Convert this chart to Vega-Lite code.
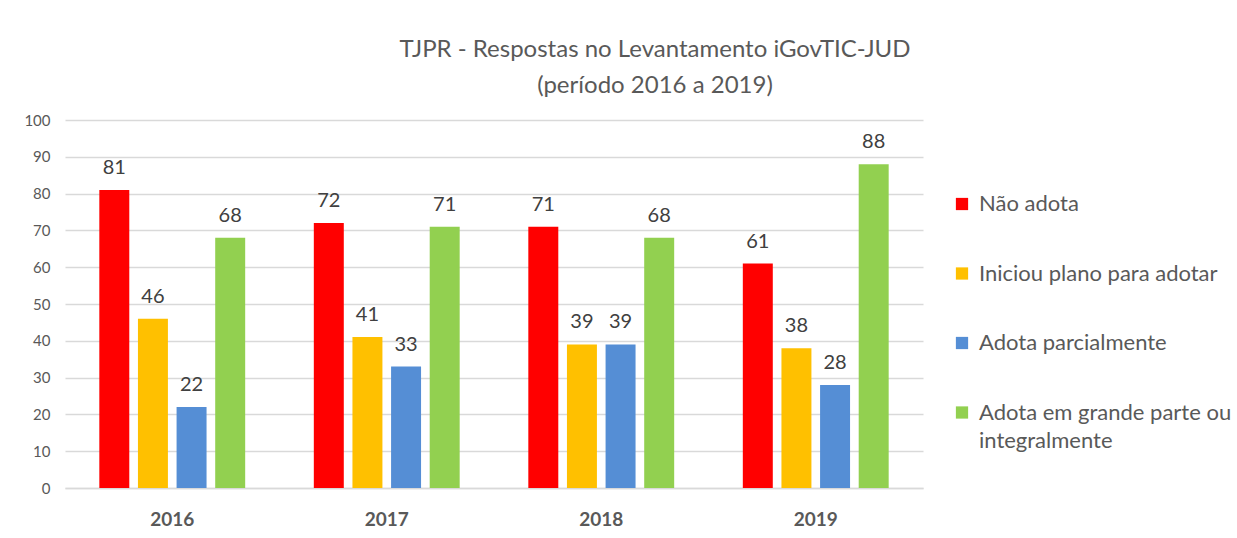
{
  "$schema": "https://vega.github.io/schema/vega-lite/v6.json",
  "width": 858,
  "height": 368,
  "autosize": {"type": "none"},
  "padding": {"left": 65, "top": 120, "right": 314, "bottom": 50},
  "background": "white",
  "config": {
    "font": "Lato",
    "view": {"stroke": null},
    "style": {"guide-label": {"lineHeight": 28}}
  },
  "title": {
    "text": ["TJPR - Respostas no Levantamento iGovTIC-JUD", "(período 2016 a 2019)"],
    "anchor": "middle",
    "frame": "group",
    "dx": 161,
    "offset": 15,
    "fontSize": 24,
    "fontWeight": "normal",
    "color": "#595959",
    "lineHeight": 36,
    "font": "Lato"
  },
  "data": {
    "values": [
      {"ano": "2016", "categoria": "Não adota", "valor": 81},
      {"ano": "2016", "categoria": "Iniciou plano para adotar", "valor": 46},
      {"ano": "2016", "categoria": "Adota parcialmente", "valor": 22},
      {"ano": "2016", "categoria": "Adota em grande parte ou integralmente", "valor": 68},
      {"ano": "2017", "categoria": "Não adota", "valor": 72},
      {"ano": "2017", "categoria": "Iniciou plano para adotar", "valor": 41},
      {"ano": "2017", "categoria": "Adota parcialmente", "valor": 33},
      {"ano": "2017", "categoria": "Adota em grande parte ou integralmente", "valor": 71},
      {"ano": "2018", "categoria": "Não adota", "valor": 71},
      {"ano": "2018", "categoria": "Iniciou plano para adotar", "valor": 39},
      {"ano": "2018", "categoria": "Adota parcialmente", "valor": 39},
      {"ano": "2018", "categoria": "Adota em grande parte ou integralmente", "valor": 68},
      {"ano": "2019", "categoria": "Não adota", "valor": 61},
      {"ano": "2019", "categoria": "Iniciou plano para adotar", "valor": 38},
      {"ano": "2019", "categoria": "Adota parcialmente", "valor": 28},
      {"ano": "2019", "categoria": "Adota em grande parte ou integralmente", "valor": 88}
    ]
  },
  "encoding": {
    "x": {
      "field": "ano",
      "type": "nominal",
      "scale": {"paddingInner": 0.32, "paddingOuter": 0.16},
      "axis": {
        "title": null,
        "labelAngle": 0,
        "labelFontSize": 19,
        "labelFontWeight": "bold",
        "labelColor": "#595959",
        "labelPadding": 22,
        "ticks": false,
        "domainColor": "#d9d9d9",
        "domainWidth": 1.5
      }
    },
    "xOffset": {
      "field": "categoria",
      "type": "nominal",
      "sort": ["Não adota", "Iniciou plano para adotar", "Adota parcialmente", "Adota em grande parte ou integralmente"],
      "scale": {"paddingInner": 0.224, "paddingOuter": 0}
    },
    "y": {
      "field": "valor",
      "type": "quantitative",
      "scale": {"domain": [0, 100]},
      "axis": {
        "title": null,
        "values": [0, 10, 20, 30, 40, 50, 60, 70, 80, 90, 100],
        "labelFontSize": 15,
        "labelColor": "#595959",
        "labelPadding": 15,
        "ticks": false,
        "domain": false,
        "gridColor": "#d9d9d9",
        "gridWidth": 1.5
      }
    }
  },
  "layer": [
    {
      "mark": {"type": "bar"},
      "encoding": {
        "color": {
          "field": "categoria",
          "type": "nominal",
          "sort": ["Não adota", "Iniciou plano para adotar", "Adota parcialmente", "Adota em grande parte ou integralmente"],
          "scale": {
            "domain": ["Não adota", "Iniciou plano para adotar", "Adota parcialmente", "Adota em grande parte ou integralmente"],
            "range": ["#FF0000", "#FFC000", "#558ED5", "#92D050"]
          },
          "legend": {
            "title": null,
            "orient": "none",
            "legendX": 886,
            "legendY": 73,
            "symbolType": "square",
            "symbolSize": 150,
            "symbolStrokeWidth": 0,
            "labelFontSize": 22,
            "labelColor": "#595959",
            "labelLimit": 400,
            "labelOffset": 6,
            "rowPadding": 47.5,
            "labelExpr": "datum.label == 'Adota em grande parte ou integralmente' ? ['Adota em grande parte ou', 'integralmente'] : datum.label"
          }
        }
      }
    },
    {
      "mark": {"type": "text", "baseline": "bottom", "dy": -12, "fontSize": 20, "color": "#404040"},
      "encoding": {
        "text": {"field": "valor", "type": "quantitative"}
      }
    }
  ]
}
